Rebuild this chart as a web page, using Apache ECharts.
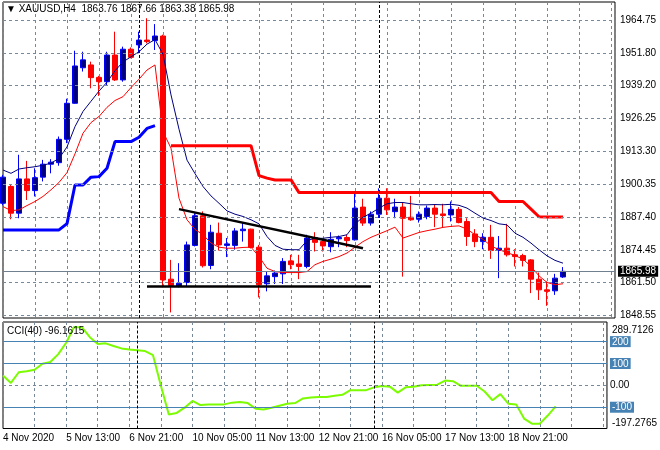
<!DOCTYPE html>
<html><head><meta charset="utf-8">
<script src="https://cdn.jsdelivr.net/npm/echarts@6/dist/echarts.min.js"></script>
<style>html,body{margin:0;padding:0;background:#fff}#c{width:660px;height:450px}</style>
</head><body><div id="c"></div>
<script>
const symbolName = 'XAUUSD,H4';
const xLabels = ['4 Nov 2020','5 Nov 13:00','6 Nov 21:00','10 Nov 05:00','11 Nov 13:00','12 Nov 21:00','16 Nov 05:00','17 Nov 13:00','18 Nov 21:00'];
const xLabelBars = [0,8,16,24,32,40,48,56,64];
const priceTicks = [1848.55,1861.50,1874.45,1887.40,1900.35,1913.30,1926.25,1939.20,1951.80,1964.75];
const cciTicks = [289.7126,200,100,0,-100,-197.2765];
const cciLevels = [200,100,-100];
const separators = [17,47];

const open = [1892.8,1899.4,1888.9,1902.4,1897.8,1903.1,1908.2,1908.8,1918.0,1932.2,
1946.2,1947.3,1942.4,1940.7,1951.2,1941.4,1953.5,1955.2,1957.1,1956.9,
1958.7,1862.9,1860.0,1861.6,1876.2,1887.9,1868.3,1881.0,1876.2,1876.2,
1882.0,1882.6,1875.5,1861.1,1863.9,1865.0,1870.1,1868.9,1867.9,1879.3,
1877.7,1875.7,1878.8,1879.3,1878.4,1891.3,1885.0,1888.5,1894.8,1889.5,
1891.3,1887.3,1886.5,1887.6,1890.9,1888.6,1888.2,1890.4,1885.6,1880.7,
1877.7,1879.4,1874.2,1875.1,1872.5,1872.2,1870.5,1862.9,1858.7,1858.3,
1863.76];
const high = [1904.0,1900.0,1911.9,1909.5,1906.6,1909.9,1910.2,1919.1,1934.0,1952.9,
1952.5,1948.6,1943.0,1952.5,1960.4,1954.5,1954.2,1960.4,1965.7,1963.4,
1959.2,1870.5,1869.2,1877.7,1888.9,1889.6,1884.3,1885.2,1879.1,1883.0,
1885.0,1882.8,1876.4,1865.9,1866.3,1871.2,1872.5,1872.5,1880.4,1881.4,
1878.4,1881.4,1880.1,1880.4,1896.8,1894.6,1889.6,1898.7,1898.7,1894.6,
1893.1,1895.7,1889.6,1891.9,1892.2,1892.6,1893.5,1891.3,1886.9,1882.6,
1881.0,1884.3,1879.9,1884.7,1874.7,1872.9,1870.8,1865.5,1862.0,1865.0,
1867.66];
const low = [1892.0,1886.5,1886.9,1894.1,1895.5,1901.4,1904.6,1907.6,1916.5,1932.0,
1944.7,1938.1,1935.1,1939.0,1941.0,1940.7,1949.9,1951.9,1955.8,1953.2,
1859.7,1849.8,1859.7,1860.0,1875.8,1867.5,1866.8,1874.2,1871.6,1874.5,
1877.7,1875.0,1855.7,1858.1,1861.0,1861.0,1866.8,1862.9,1867.2,1873.8,
1873.8,1873.5,1875.5,1875.5,1878.1,1883.9,1884.0,1887.0,1888.2,1886.9,
1863.9,1885.9,1885.2,1886.5,1883.4,1883.3,1885.6,1884.9,1876.0,1875.5,
1874.7,1870.9,1863.3,1871.8,1867.9,1867.9,1857.4,1854.7,1852.4,1856.7,
1863.38];
const close = [1903.1,1888.9,1902.4,1897.8,1902.9,1908.2,1909.0,1918.0,1932.2,1946.9,
1949.3,1942.3,1940.7,1951.2,1941.4,1953.5,1950.3,1957.1,1956.5,1958.7,
1862.6,1860.4,1861.3,1876.4,1887.9,1868.2,1881.4,1876.4,1876.8,1881.9,
1882.6,1875.4,1860.7,1864.2,1865.3,1869.9,1868.6,1867.9,1879.1,1877.4,
1876.0,1878.6,1879.3,1878.1,1890.9,1885.0,1888.5,1894.8,1890.2,1891.3,
1886.9,1886.3,1888.5,1890.9,1888.5,1888.0,1890.4,1885.2,1879.7,1877.7,
1879.4,1874.2,1875.1,1872.5,1871.8,1870.3,1862.9,1858.7,1858.1,1863.3,
1865.98];
const maFast = [1905.9,1904.6,1906.3,1906.8,1907.2,1907.8,1908.6,1910.5,1915.0,1923.0,
1929.0,1933.0,1937.0,1940.5,1945.0,1948.5,1950.5,1952.5,1955.5,1957.3,
1951.5,1935.5,1922.0,1909.8,1904.5,1899.4,1895.7,1892.8,1889.8,1888.5,
1887.6,1886.3,1884.7,1879.7,1876.2,1874.7,1874.5,1874.5,1878.1,1879.0,
1879.0,1879.4,1879.7,1880.4,1884.7,1887.3,1888.9,1890.9,1892.6,1893.1,
1893.1,1892.6,1892.2,1892.2,1892.3,1892.2,1892.4,1892.0,1890.9,1888.9,
1887.0,1886.0,1884.7,1884.3,1881.0,1879.4,1877.1,1874.5,1872.1,1870.3,
1869.2];
const maSlow = [1891.5,1889.9,1890.2,1891.9,1893.5,1895.5,1898.1,1901.0,1904.9,1912.3,
1920.4,1924.6,1927.0,1930.6,1933.3,1934.8,1938.4,1941.7,1945.3,1947.3,
1921.0,1914.5,1894.8,1886.3,1882.5,1880.4,1877.1,1875.5,1875.1,1875.1,
1875.4,1875.5,1871.8,1867.2,1865.9,1865.5,1865.5,1865.5,1865.9,1868.6,
1869.9,1870.8,1871.8,1873.2,1875.5,1877.7,1879.4,1880.7,1882.0,1883.4,
1879.1,1880.2,1881.3,1882.0,1882.6,1883.3,1883.7,1883.9,1882.6,1880.4,
1878.6,1876.0,1874.5,1873.4,1872.2,1870.8,1867.9,1864.2,1861.6,1860.7,
1861.1];
const stopUp = [1882.3,1882.3,1882.3,1882.3,1882.3,1882.3,1882.3,1882.3,1884.8,1900.0,
1900.0,1903.1,1903.3,1906.6,1917.1,1917.1,1917.1,1918.8,1922.3,1923.4,
null,null,null,null,null,null,null,null,null,null,
null,null,null,null,null,null,null,null,null,null,
null,null,null,null,null,null,null,null,null,null,
null,null,null,null,null,null,null,null,null,null,
null,null,null,null,null,null,null,null,null,null,
null];
const stopDown = [null,null,null,null,null,null,null,null,null,null,
null,null,null,null,null,null,null,null,null,null,
null,1915.5,1915.5,1915.5,1915.5,1915.5,1915.5,1915.5,1915.5,1915.5,
1915.5,1915.5,1903.7,1902.7,1902.0,1902.0,1902.0,1897.0,1897.0,1897.0,
1897.0,1897.0,1897.0,1897.0,1897.0,1897.0,1897.0,1897.0,1897.0,1897.0,
1897.0,1897.0,1897.0,1897.0,1897.0,1897.0,1897.0,1897.0,1897.0,1897.0,
1897.0,1897.0,1893.5,1893.5,1893.5,1893.5,1890.5,1887.5,1887.4,1887.4,
1887.4];
const cci = [45,11,60,65,71,99,107,143,195,267,
265,220,189,192,180,169,164,161,157,138,
-2,-133,-126,-102,-71,-90,-87,-87,-87,-79,
-76,-81,-107,-110,-102,-93,-84,-81,-60,-56,
-53,-53,-48,-43,-22,-22,-22,-9,-3,-6,
-33,-9,-6,0,2,3,22,19,-2,-2,
-2,-28,-68,-40,-84,-87,-152,-175,-175,-138,
-96.1615];
const trendLine = [[22,1890.5],[45,1875.1]];
const supportLine = [[18,1860.0],[46,1860.0]];

const FONT = '"Liberation Sans", Arial, sans-serif';
const GRIDC = '#778899';
const last = close.length - 1;
const pairs = arr => arr.map((v,i)=>[i, v]);

const chart = echarts.init(document.getElementById('c'), null, {renderer:'canvas'});
const baseText = {fontSize:10, color:'#000', fontFamily:FONT, fontWeight:'normal'};

const option = {
  animation:false,
  backgroundColor:'#fff',
  title:[
    {text:'\u25BC ' + symbolName + '  ' + [open[last],high[last],low[last],close[last]].map(v=>v.toFixed(2)).join(' '),
     left:6, top:4, padding:0, textStyle:baseText},
    {text:'CCI(40) ' + cci[last], left:7, top:326, padding:0, textStyle:baseText}
  ],
  grid:[
    {left:3, top:2, width:612, height:316, show:true, borderColor:'#000', borderWidth:1, backgroundColor:'#fff'},
    {left:3, top:322, width:612, height:106.5, show:true, borderColor:'#000', borderWidth:1, backgroundColor:'#fff'}
  ],
  xAxis:[
    {type:'value', gridIndex:0, min:0, max:76.5, interval:4,
     axisLine:{show:false}, axisTick:{show:false}, axisLabel:{show:false},
     splitLine:{show:true, lineStyle:{color:GRIDC, type:[3,3], width:1}}},
    {type:'value', gridIndex:1, min:0, max:76.5, interval:4,
     axisLine:{show:false}, axisTick:{show:false},
     axisLabel:Object.assign({show:true, align:'left', margin:5, showMinLabel:true, showMaxLabel:false,
       formatter:v=>{const k = xLabelBars.indexOf(v); return k>=0 ? xLabels[k] : '';}}, baseText),
     splitLine:{show:true, lineStyle:{color:GRIDC, type:[3,3], width:1}}}
  ],
  yAxis:[
    {type:'value', gridIndex:0, position:'right', min:1847.6, max:1972.1, scale:true,
     axisLine:{show:false}, axisTick:{show:false}, splitLine:{show:false},
     axisLabel:Object.assign({customValues:priceTicks, margin:5, formatter:v=>v.toFixed(2)}, baseText)},
    {type:'value', gridIndex:1, position:'right', min:-197.2765, max:289.7126,
     axisLine:{show:false}, axisTick:{show:false}, splitLine:{show:false},
     axisLabel:Object.assign({customValues:cciTicks, margin:3,
       formatter:v=>{
         if (cciLevels.indexOf(v)>=0) return '{box|' + v + '}';
         if (v === 0) return '0.00';
         if (v > 0) return '{top|' + v + '}';
         return '{bot|' + v + '}';
       },
       rich:{
         box:{backgroundColor:'#4682B4', color:'#fff', padding:[1,2,0,2], fontSize:10, fontFamily:FONT},
         top:{padding:[16,0,0,2], fontSize:10, color:'#000', fontFamily:FONT},
         bot:{padding:[0,0,11,2], fontSize:10, color:'#000', fontFamily:FONT}
       }}, baseText)}
  ],
  series:[
    {type:'line', xAxisIndex:0, yAxisIndex:0, data:[], z:1, silent:true,
     markLine:{symbol:['none','none'], silent:true, animation:false, label:{show:false},
       data:[].concat(
         priceTicks.map(v=>({yAxis:v, lineStyle:{color:GRIDC, type:[3,3], width:1}})),
         separators.map(x=>({xAxis:x, lineStyle:{color:'#000', type:[3,2], width:1}}))
       )}},
    {type:'candlestick', xAxisIndex:0, yAxisIndex:0, z:3, barWidth:5,
     encode:{x:0, y:[1,2,3,4]},
     data:open.map((o,i)=>[i, o, close[i], low[i], high[i]]),
     itemStyle:{color:'#000080', color0:'#FF0000', borderColor:'#0000FF', borderColor0:'#FF0000', borderWidth:1},
     markLine:{symbol:['none','none'], silent:true, animation:false,
       data:[{yAxis:close[last], lineStyle:{color:'#708090', type:'solid', width:1},
         label:{show:true, position:'end', distance:3, formatter:close[last].toFixed(2),
           backgroundColor:'#000', color:'#fff', padding:[1,2,0,2], fontSize:10, fontFamily:FONT}}]}},
    {type:'line', xAxisIndex:0, yAxisIndex:0, z:4, data:pairs(maSlow), symbol:'none',
     lineStyle:{color:'#FF0000', width:1}},
    {type:'line', xAxisIndex:0, yAxisIndex:0, z:4, data:pairs(maFast), symbol:'none',
     lineStyle:{color:'#000080', width:1}},
    {type:'line', xAxisIndex:0, yAxisIndex:0, z:4, data:pairs(stopUp), symbol:'none',
     lineStyle:{color:'#0000FF', width:3}},
    {type:'line', xAxisIndex:0, yAxisIndex:0, z:4, data:pairs(stopDown), symbol:'none',
     lineStyle:{color:'#FF0000', width:3}},
    {type:'line', xAxisIndex:0, yAxisIndex:0, z:5, data:trendLine, symbol:'none',
     lineStyle:{color:'#000', width:2.5}},
    {type:'line', xAxisIndex:0, yAxisIndex:0, z:5, data:supportLine, symbol:'none',
     lineStyle:{color:'#000', width:2.5}},
    {type:'line', xAxisIndex:1, yAxisIndex:1, data:[], z:1, silent:true,
     markLine:{symbol:['none','none'], silent:true, animation:false, label:{show:false},
       data:[].concat(
         cciLevels.map(v=>({yAxis:v, lineStyle:{color:'#4682B4', type:'solid', width:1}})),
         [{yAxis:0, lineStyle:{color:GRIDC, type:[3,3], width:1}}],
         separators.map(x=>({xAxis:x, lineStyle:{color:'#000', type:[3,2], width:1}}))
       )}},
    {type:'line', xAxisIndex:1, yAxisIndex:1, z:4, data:pairs(cci), symbol:'none',
     lineStyle:{color:'#7CFC00', width:2}}
  ]
};
chart.setOption(option);
</script>
</body></html>
